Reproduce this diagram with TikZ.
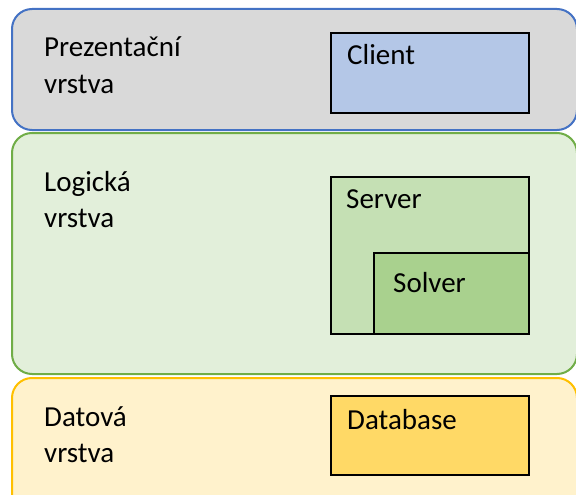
\documentclass[tikz,border=0pt]{standalone}
\usepackage{fontspec}
\setmainfont{Carlito}
\usetikzlibrary{positioning}

\definecolor{presfill}{HTML}{D9D9D9}
\definecolor{presline}{HTML}{4472C4}
\definecolor{logfill}{HTML}{E2EFDA}
\definecolor{logline}{HTML}{70AD47}
\definecolor{datfill}{HTML}{FFF2CC}
\definecolor{datline}{HTML}{FFC000}
\definecolor{clientfill}{HTML}{B4C7E7}
\definecolor{serverfill}{HTML}{C5E0B4}
\definecolor{solverfill}{HTML}{A9D18E}
\definecolor{dbfill}{HTML}{FFD966}

\begin{document}
\begin{tikzpicture}[
    x=1pt, y=-1pt,
    layer/.style={rectangle, draw, line width=2pt, rounded corners=20pt, anchor=north west, minimum width=565pt, inner sep=0pt},
    box/.style={rectangle, draw=black, line width=2pt, anchor=north west, inner sep=0pt},
    txt/.style={anchor=base west, inner sep=0pt, align=left, font=\fontsize{29}{36}\selectfont},
]
    \useasboundingbox (0,0) rectangle (576,495);

    % Layers
    \node[layer, fill=presfill, draw=presline, minimum height=121pt] (pres) at (11,8) {};
    \node[layer, fill=logfill, draw=logline, minimum height=241pt]   (logic) at (11,132) {};
    \node[layer, fill=datfill, draw=datline, minimum height=140pt]   (data) at (11,377) {};

    % Layer names (base = last line)
    \node[txt] (preslabel)  at (44,93)  {Prezentační\\vrstva};
    \node[txt] (logiclabel) at (44,227) {Logická\\vrstva};
    \node[txt] (datalabel)  at (44,462) {Datová\\vrstva};

    % Components
    \node[box, fill=clientfill, minimum width=198pt, minimum height=80pt]  (client) at (330,32) {};
    \node[box, fill=serverfill, minimum width=198pt, minimum height=157pt] (server) at (330,176) {};
    \node[box, fill=solverfill, minimum width=155pt, minimum height=81pt]  (solver) at (373,252) {};
    \node[box, fill=dbfill, minimum width=198pt, minimum height=79pt]      (db) at (330,395) {};

    \node[txt] (clientlabel) at (347,65)  {Client};
    \node[txt] (serverlabel) at (346,208) {Server};
    \node[txt] (solverlabel) at (393,292) {Solver};
    \node[txt] (dblabel)     at (347,429) {Database};
\end{tikzpicture}
\end{document}
